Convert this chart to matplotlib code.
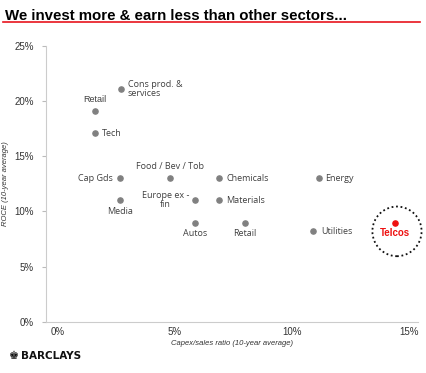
import matplotlib.pyplot as plt
from matplotlib.patches import Ellipse

# sector data: capex/sales (%), ROCE (%)
sectors = ['Cons prod. &\nservices', 'Retail', 'Tech', 'Cap Gds', 'Media',
           'Food / Bev / Tob', 'Chemicals', 'Energy', 'Europe ex -\nfin',
           'Materials', 'Autos', 'Retail', 'Utilities']
capex = [2.7, 1.6, 1.6, 2.65, 2.65, 4.8, 6.9, 11.15, 5.85, 6.9, 5.85, 8.0, 10.9]
roce = [21.1, 19.1, 17.1, 13.0, 11.0, 13.0, 13.0, 13.0, 11.0, 11.0, 9.0, 9.0, 8.2]
telcos_capex = 14.4
telcos_roce = 9.0

# label offsets in points (dx, dy, ha, va)
offs = [(5, 0, 'left', 'center'), (0, 5, 'center', 'bottom'), (5, 0, 'left', 'center'),
        (-5, 0, 'right', 'center'), (0, -5, 'center', 'top'), (0, 5, 'center', 'bottom'),
        (5, 0, 'left', 'center'), (5, 0, 'left', 'center'), (-4, 0, 'right', 'center'),
        (5, 0, 'left', 'center'), (0, -5, 'center', 'top'), (0, -5, 'center', 'top'),
        (6, 0, 'left', 'center')]

fig = plt.figure(figsize=(4.27, 3.73), dpi=100)
fig.text(0.012, 0.975, 'We invest more & earn less than other sectors...',
         family='Liberation Sans', weight='bold', fontsize=10.8, va='top')
fig.add_artist(plt.Line2D([0.008, 0.984], [0.94, 0.94], color='#e8141e', lw=1.2))

ax = fig.add_axes([0.108, 0.137, 0.871, 0.74])
ax.scatter(capex, roce, s=14, color='#808080', zorder=3)
ax.scatter([telcos_capex], [telcos_roce], s=14, color='#ee1111', zorder=3)
for name, x, y, (dx, dy, ha, va) in zip(sectors, capex, roce, offs):
    fam = 'Liberation Sans' if name == 'Retail' and y > 15 else 'Open Sans'
    ax.annotate(name, (x, y), xytext=(dx, dy), textcoords='offset points',
                ha=ha, va=va, fontsize=6.5, color='#404040', family=fam,
                linespacing=1.0, multialignment='center' if 'fin' in name else 'left')
ax.annotate('Telcos', (telcos_capex, telcos_roce), xytext=(0, -4),
            textcoords='offset points', ha='center', va='top', fontsize=7,
            color='#ee1111', weight='bold', family='Liberation Sans')
ax.add_patch(Ellipse((14.5, 8.2), 2.1, 4.5, fill=False, ls=(0, (1, 1.5)),
                     lw=1.3, color='#111111', clip_on=False))

ax.set_xlim(-0.5, 15.4)
ax.set_ylim(0, 25)
ax.set_xticks([0, 5, 10, 15])
ax.set_xticklabels(['0%', '5%', '10%', '15%'])
ax.set_yticks([0, 5, 10, 15, 20, 25])
ax.set_yticklabels(['0%', '5%', '10%', '15%', '20%', '25%'])
ax.tick_params(axis='x', length=0, pad=4, labelsize=7, labelcolor='#333333')
ax.tick_params(axis='y', length=3, color='#bbbbbb', pad=6, labelsize=7, labelcolor='#333333')
for lab in ax.get_xticklabels() + ax.get_yticklabels():
    lab.set_family('Liberation Sans')
for s in ['top', 'right']:
    ax.spines[s].set_visible(False)
for s in ['left', 'bottom']:
    ax.spines[s].set_color('#cccccc')
    ax.spines[s].set_linewidth(0.8)
ax.set_xlabel('Capex/sales ratio (10-year average)', fontsize=5.5, style='italic',
              family='Liberation Sans', color='#333333', labelpad=2)
ax.set_ylabel('ROCE (10-year average)', fontsize=5.5, style='italic',
              family='Liberation Sans', color='#333333', labelpad=4)

fig.text(0.02, 0.045, '\u265a', fontsize=8, color='#111111', va='center', family='DejaVu Sans')
fig.text(0.05, 0.045, 'BARCLAYS', fontsize=7.5, color='#111111', va='center',
         family='Liberation Sans Narrow', weight='bold')

fig.savefig('out.png', dpi=100)
